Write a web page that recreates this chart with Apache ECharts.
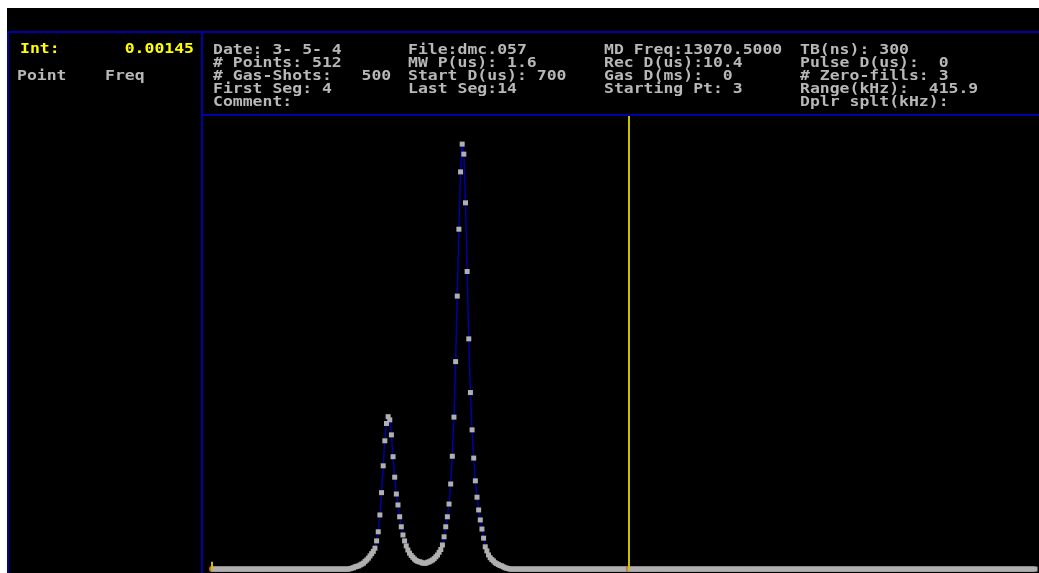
<!DOCTYPE html>
<html><head><meta charset="utf-8">
<script src="https://cdn.jsdelivr.net/npm/echarts@6/dist/echarts.min.js"></script>
<style>html,body{margin:0;padding:0;background:#fff;overflow:hidden}#c{width:1039px;height:573px}</style>
</head><body><div id="c"></div>
<script>
// ---- data (intensity, arbitrary units, one value per point index) ----
const leftBaseline = [
0.2,0.2,0.2,0.2,0.2,0.2,0.2,0.2,0.2,0.2,
0.2,0.2,0.2,0.2,0.2,0.2,0.2,0.2,0.2,0.2,
0.2,0.2,0.2,0.2,0.2,0.2,0.2,0.2,0.2,0.2,
0.2,0.2,0.2,0.2,0.2,0.2,0.2,0.2,0.2,0.2,
0.2,0.2,0.2,0.2,0.2,0.2,0.2,0.2,0.2,0.2,
0.2,0.2,0.2,0.2,0.2,0.2,0.2,0.2,0.2,0.2,
0.2,0.2,0.2,0.2,0.2,0.2,0.2,0.2,0.2,0.2,
0.2,0.2,0.2,0.2,0.2,0.2,0.2,0.2,0.2,0.2,
0.2,0.2,0.2,0.2
];
const peakRegion = [
0.3,0.4,0.5,0.7,0.8,0.9,1.1,1.3,1.5,1.9,
2.2,2.6,3.1,3.6,4.1,4.8,6.4,8.4,12.1,17.0,
22.9,28.4,32.2,33.7,33.0,29.7,24.9,20.4,16.7,14.3,
11.7,9.5,7.7,6.4,5.3,4.4,3.7,3.2,2.8,2.4,
2.1,1.9,1.8,1.7,1.5,1.5,1.5,1.7,1.8,2.0,
2.2,2.5,2.9,3.3,3.9,4.5,5.5,7.3,9.5,11.7,
14.5,18.9,25.0,33.6,45.8,60.2,74.9,87.5,93.6,91.4,
80.7,65.6,50.8,39.0,30.8,24.6,19.6,16.0,13.2,11.0,
9.0,7.0,5.1,4.2,3.3,2.7,2.3,2.0,1.6,1.4,
1.2,1.0,0.9,0.7,0.5,0.4,0.3
];
const rightBaseline = [
0.2,0.2,0.2,0.2,0.2,0.2,0.2,0.2,0.2,0.2,
0.2,0.2,0.2,0.2,0.2,0.2,0.2,0.2,0.2,0.2,
0.2,0.2,0.2,0.2,0.2,0.2,0.2,0.2,0.2,0.2,
0.2,0.2,0.2,0.2,0.2,0.2,0.2,0.2,0.2,0.2,
0.2,0.2,0.2,0.2,0.2,0.2,0.2,0.2,0.2,0.2,
0.2,0.2,0.2,0.2,0.2,0.2,0.2,0.2,0.2,0.2,
0.2,0.2,0.2,0.2,0.2,0.2,0.2,0.2,0.2,0.2,
0.2,0.2,0.2,0.2,0.2,0.2,0.2,0.2,0.2,0.2,
0.2,0.2,0.2,0.2,0.2,0.2,0.2,0.2,0.2,0.2,
0.2,0.2,0.2,0.2,0.2,0.2,0.2,0.2,0.2,0.2,
0.2,0.2,0.2,0.2,0.2,0.2,0.2,0.2,0.2,0.2,
0.2,0.2,0.2,0.2,0.2,0.2,0.2,0.2,0.2,0.2,
0.2,0.2,0.2,0.2,0.2,0.2,0.2,0.2,0.2,0.2,
0.2,0.2,0.2,0.2,0.2,0.2,0.2,0.2,0.2,0.2,
0.2,0.2,0.2,0.2,0.2,0.2,0.2,0.2,0.2,0.2,
0.2,0.2,0.2,0.2,0.2,0.2,0.2,0.2,0.2,0.2,
0.2,0.2,0.2,0.2,0.2,0.2,0.2,0.2,0.2,0.2,
0.2,0.2,0.2,0.2,0.2,0.2,0.2,0.2,0.2,0.2,
0.2,0.2,0.2,0.2,0.2,0.2,0.2,0.2,0.2,0.2,
0.2,0.2,0.2,0.2,0.2,0.2,0.2,0.2,0.2,0.2,
0.2,0.2,0.2,0.2,0.2,0.2,0.2,0.2,0.2,0.2,
0.2,0.2,0.2,0.2,0.2,0.2,0.2,0.2,0.2,0.2,
0.2,0.2,0.2,0.2,0.2,0.2,0.2,0.2,0.2,0.2,
0.2,0.2,0.2,0.2,0.2,0.2,0.2,0.2,0.2,0.2,
0.2,0.2,0.2,0.2,0.2,0.2,0.2,0.2,0.2,0.2,
0.2,0.2,0.2,0.2,0.2,0.2,0.2,0.2,0.2,0.2,
0.2,0.2,0.2,0.2,0.2,0.2,0.2,0.2,0.2,0.2,
0.2,0.2,0.2,0.2,0.2,0.2,0.2,0.2,0.2,0.2,
0.2,0.2,0.2,0.2,0.2,0.2,0.2,0.2,0.2,0.2,
0.2,0.2,0.2,0.2,0.2,0.2,0.2,0.2,0.2,0.2,
0.2,0.2,0.2,0.2,0.2,0.2,0.2,0.2,0.2,0.2,
0.2,0.2,0.2,0.2,0.2,0.2,0.2,0.2,0.2,0.2
];
const cursorIndex = 253;
const startMarkHeight = 1.8;

// ---- texts ----
const intLabel = 'Int:';
const intValue = '0.00145';
const listHeaders = ['Point', 'Freq'];
const headerCol1 = ['Date: 3- 5- 4', '# Points: 512', '# Gas-Shots:   500', 'First Seg: 4', 'Comment:'];
const headerCol2 = ['File:dmc.057', 'MW P(us): 1.6', 'Start D(us): 700', 'Last Seg:14'];
const headerCol3 = ['MD Freq:13070.5000', 'Rec D(us):10.4', 'Gas D(ms):  0', 'Starting Pt: 3'];
const headerCol4 = ['TB(ns): 300', 'Pulse D(us):  0', '# Zero-fills: 3', 'Range(kHz):  415.9', 'Dplr splt(kHz):'];

// ---- build ----
const values = leftBaseline.concat(peakRegion, rightBaseline);
const ORANGE = '#d07030';
const seriesData = values.map((v, i) => {
  const d = { value: [i, v] };
  if (i === 0) d.symbol = 'circle', d.symbolSize = 6, d.itemStyle = { color: ORANGE, borderColor: ORANGE };
  if (i === cursorIndex) d.itemStyle = { color: ORANGE, borderColor: ORANGE };
  return d;
});

const GRAY = '#b8b8b8';
const BLUE = '#0000a8';
const FONT = 'bold 14px "DejaVu Sans Mono"';
const SX = 1.175;

function textEl(str, x, y, color, align) {
  return { type: 'text', x: x, y: y, scaleX: SX, z: 10, silent: true,
    style: { text: str, fill: color, font: FONT, align: align || 'left', verticalAlign: 'middle' } };
}
function lineEl(x1, y1, x2, y2) {
  return { type: 'line', z: 10, silent: true, shape: { x1, y1, x2, y2 }, style: { stroke: BLUE, lineWidth: 2 } };
}

const graphics = [
  { type: 'rect', z: 20, silent: true, shape: { x: 0, y: 0, width: 1039, height: 8 }, style: { fill: '#fff' } },
  { type: 'rect', z: 20, silent: true, shape: { x: 0, y: 0, width: 7, height: 573 }, style: { fill: '#fff' } },
  lineEl(7, 32, 1039, 32),
  lineEl(8, 32, 8, 573),
  lineEl(202, 32, 202, 573),
  lineEl(202, 115, 1039, 115),
  textEl(intLabel, 20, 49.5, '#ffff00'),
  textEl(intValue, 194, 49.5, '#ffff00', 'right'),
  textEl(listHeaders[0], 17, 76, GRAY),
  textEl(listHeaders[1], 105, 76, GRAY)
];
const colX = [213, 408, 604, 800];
[headerCol1, headerCol2, headerCol3, headerCol4].forEach((col, c) => {
  col.forEach((s, r) => graphics.push(textEl(s, colX[c], 50.5 + r * 13, GRAY)));
});

const chart = echarts.init(document.getElementById('c'), null, { renderer: 'canvas' });
chart.setOption({
  backgroundColor: '#000',
  animation: false,
  grid: { left: 212, top: 115, width: 823, height: 455 },
  xAxis: { type: 'value', min: 0, max: 500, show: false },
  yAxis: { type: 'value', min: 0, max: 100, show: false },
  graphic: graphics,
  series: [{
    type: 'line',
    data: seriesData,
    showAllSymbol: true,
    symbol: 'rect',
    symbolSize: 5,
    clip: false,
    lineStyle: { color: BLUE, width: 1.5 },
    itemStyle: { color: '#b0b0b0', borderWidth: 0 },
    markLine: {
      silent: true, symbol: 'none', label: { show: false },
      data: [
        [{ coord: [cursorIndex, 0], lineStyle: { color: '#c8c000', width: 2, type: 'solid' } }, { coord: [cursorIndex, 100] }],
        [{ coord: [0, 0], lineStyle: { color: '#c8c000', width: 2, type: 'solid' } }, { coord: [0, startMarkHeight] }]
      ]
    }
  }]
});
</script></body></html>
